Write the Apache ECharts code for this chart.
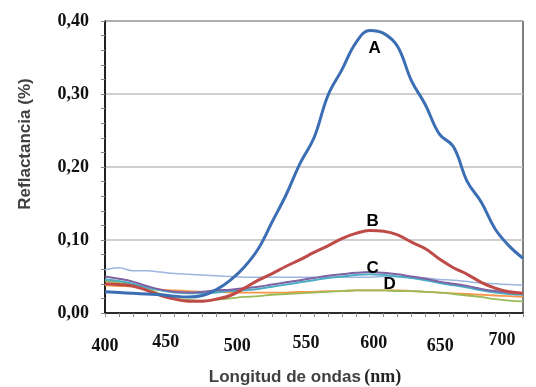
<!DOCTYPE html>
<html>
<head>
<meta charset="utf-8">
<script src="https://cdn.jsdelivr.net/npm/echarts@6/dist/echarts.min.js"></script>
<style>html,body{margin:0;padding:0;background:#fff}#c{width:536px;height:387px}</style>
</head>
<body>
<div id="c"></div>
<script>
const wavelengths = [400,410,420,430,440,450,460,470,480,490,500,510,520,530,540,550,560,570,580,590,600,610,620,630,640,650,660,670,680,690,700];
const xTickLabels = [400,450,500,550,600,650,700];
const yTickLabels = ['0,00','0,10','0,20','0,30','0,40'];

const serieA = [0.029,0.028,0.027,0.026,0.025,0.023,0.022,0.024,0.032,0.045,0.063,0.088,0.125,0.162,0.205,0.240,0.298,0.333,0.370,0.387,0.383,0.365,0.318,0.285,0.245,0.228,0.180,0.152,0.115,0.092,0.075];
const serieB = [0.040,0.039,0.037,0.031,0.024,0.019,0.016,0.016,0.019,0.024,0.034,0.045,0.054,0.064,0.073,0.083,0.092,0.102,0.109,0.113,0.112,0.107,0.097,0.088,0.074,0.062,0.053,0.042,0.034,0.029,0.027];
const serieC = [0.050,0.047,0.043,0.037,0.032,0.029,0.028,0.029,0.031,0.032,0.034,0.036,0.039,0.042,0.045,0.048,0.051,0.053,0.055,0.056,0.055,0.053,0.050,0.047,0.043,0.040,0.037,0.033,0.030,0.028,0.027];
const serieD = [0.046,0.044,0.040,0.035,0.031,0.028,0.027,0.027,0.028,0.030,0.031,0.033,0.036,0.039,0.042,0.045,0.048,0.050,0.052,0.053,0.052,0.050,0.048,0.045,0.041,0.038,0.035,0.031,0.028,0.026,0.025];
const serieE = [0.059,0.062,0.058,0.058,0.056,0.054,0.053,0.052,0.051,0.050,0.049,0.049,0.049,0.049,0.049,0.049,0.049,0.049,0.049,0.049,0.050,0.050,0.049,0.048,0.046,0.045,0.043,0.041,0.040,0.039,0.038];
const serieF = [0.038,0.037,0.036,0.034,0.032,0.031,0.030,0.029,0.029,0.028,0.028,0.028,0.028,0.028,0.029,0.029,0.030,0.030,0.031,0.031,0.031,0.031,0.030,0.029,0.028,0.027,0.026,0.025,0.024,0.023,0.022];
const serieG = [0.044,0.042,0.039,0.033,0.026,0.020,0.018,0.017,0.018,0.020,0.022,0.023,0.025,0.026,0.027,0.028,0.029,0.030,0.031,0.031,0.031,0.030,0.030,0.029,0.028,0.026,0.024,0.022,0.019,0.017,0.016];

function build(vals, labelText, labelIdx, offset) {
  return wavelengths.map((x, i) => {
    const item = { value: [x, vals[i]] };
    if (labelText && i === labelIdx) {
      item.label = { show: true, formatter: labelText, position: 'inside', offset: offset,
        fontFamily: 'Liberation Sans, Arial, sans-serif', fontWeight: 'bold', fontSize: 17, color: '#000' };
    }
    return item;
  });
}

function line(name, vals, color, width, labelText, labelIdx, offset) {
  return {
    name: name, type: 'line', smooth: 0.4, showSymbol: true, symbol: 'circle', symbolSize: 0,
    lineStyle: { color: color, width: width }, itemStyle: { color: color },
    label: { show: false }, emphasis: { disabled: true }, silent: true,
    data: build(vals, labelText, labelIdx, offset), z: 2
  };
}

const xOff = { 400: [0, 6], 450: [9, 2], 500: [7, 6], 550: [8, 3], 600: [10, 3], 650: [13, 6], 700: [21, 0] };
const rich = {};
xTickLabels.forEach((v, i) => {
  const o = xOff[v];
  rich['l' + i] = { fontFamily: 'Liberation Serif, Times New Roman, serif', fontWeight: 'bold', fontSize: 18,
    color: '#111', padding: [o[1], 2 * o[0], 0, 0] };
});

const chart = echarts.init(document.getElementById('c'));
chart.setOption({
  animation: false,
  grid: { left: 105, right: 13, top: 21, bottom: 74, outerBoundsMode: 'none', containLabel: false,
    show: true, borderColor: '#000', borderWidth: 1, backgroundColor: 'transparent' },
  xAxis: {
    type: 'value', min: 400, max: 700, interval: 50,
    name: '{a|Longitud de ondas} {b|(nm)}', nameLocation: 'middle', nameGap: 55,
    nameTextStyle: { padding: [0, 18, 0, 0],
      rich: {
        a: { fontFamily: 'Liberation Sans, Arial, sans-serif', fontWeight: 'bold', fontSize: 17, color: '#404040' },
        b: { fontFamily: 'Liberation Serif, Times New Roman, serif', fontWeight: 'bold', fontSize: 18, color: '#222' }
      } },
    axisLine: { show: true, lineStyle: { color: '#000', width: 1.5 } },
    axisTick: { show: true, length: 4, lineStyle: { color: '#888' } },
    minorTick: { show: true, splitNumber: 5, length: 4, lineStyle: { color: '#888' } },
    splitLine: { show: false },
    axisLabel: {
      margin: 18,
      formatter: function (v) { const i = xTickLabels.indexOf(v); return '{l' + i + '|' + v + '}'; },
      rich: rich
    }
  },
  yAxis: {
    type: 'value', min: 0, max: 0.4, interval: 0.1,
    name: 'Reflactancia (%)', nameLocation: 'middle', nameGap: 71, nameRotate: 90,
    nameTextStyle: { fontFamily: 'Liberation Sans, Arial, sans-serif', fontWeight: 'bold', fontSize: 17, color: '#404040', padding: [0, 0, 0, 46] },
    axisLine: { show: true, lineStyle: { color: '#000', width: 1.5 } },
    axisTick: { show: true, length: 4, lineStyle: { color: '#888' } },
    minorTick: { show: true, splitNumber: 5, length: 4, lineStyle: { color: '#888' } },
    splitLine: { show: true, lineStyle: { color: '#BFBFBF', width: 1.5 } },
    axisLabel: {
      margin: 16, fontFamily: 'Liberation Serif, Times New Roman, serif', fontWeight: 'bold', fontSize: 18, color: '#111',
      formatter: function (v) { return yTickLabels[Math.round(v * 10)]; }
    }
  },
  series: [
    line('E', serieE, '#9DB5DE', 1.5),
    line('F', serieF, '#F79646', 1.8),
    line('G', serieG, '#9BBB59', 1.8),
    line('D', serieD, '#4BACC6', 2, 'D', 20, [6, 9]),
    line('C', serieC, '#7E62A2', 2, 'C', 19, [3, -4]),
    line('B', serieB, '#BE4B48', 3, 'B', 19, [3, -9]),
    line('A', serieA, '#3C6EB4', 3, 'A', 19, [5, 18])
  ]
});
</script>
</body>
</html>
